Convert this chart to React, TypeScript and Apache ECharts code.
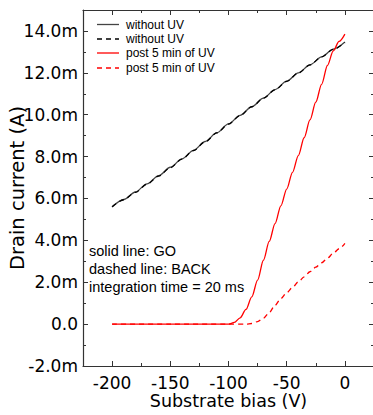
import React, { useEffect, useRef } from "react";
import * as echarts from "echarts";

// ---- data (drain current in mA, bias in V) ----
const seriesNames = ["without UV", "without UV", "post 5 min of UV", "post 5 min of UV"];

const biasBlack = [-200, -190, -180, -170, -160, -150, -140, -130, -120, -110, -100, -90, -80, -70, -60, -50, -40, -30, -20, -10, 0];
const noUvGo = [5.59, 5.95, 6.31, 6.70, 7.09, 7.49, 7.89, 8.30, 8.72, 9.14, 9.56, 9.97, 10.38, 10.79, 11.20, 11.60, 12.00, 12.38, 12.76, 13.13, 13.47];
const noUvBack = [5.60, 5.94, 6.29, 6.68, 7.07, 7.47, 7.88, 8.29, 8.71, 9.13, 9.55, 9.96, 10.38, 10.79, 11.19, 11.59, 11.99, 12.38, 12.76, 13.12, 13.45];

const biasUvGo = [-200, -150, -100, -95, -90, -85, -80, -75, -70, -65, -60, -55, -50, -45, -40, -35, -30, -25, -20, -15, -10, -5, 0];
const uvGo = [0, 0, 0, 0.08, 0.3, 0.7, 1.3, 2.1, 3.05, 3.95, 4.8, 5.65, 6.45, 7.25, 8.05, 8.9, 9.75, 10.6, 11.45, 12.35, 13.05, 13.5, 13.85];

const biasUvBack = [-200, -150, -100, -85, -80, -75, -70, -65, -60, -55, -50, -45, -40, -35, -30, -25, -20, -15, -10, -5, 0];
const uvBack = [0, 0, 0, 0, 0.03, 0.12, 0.28, 0.55, 0.9, 1.22, 1.5, 1.75, 2.02, 2.26, 2.5, 2.72, 2.93, 3.15, 3.38, 3.6, 3.86];

const xMajorTicks = [-200, -150, -100, -50, 0];
const xMinorTicks = [-225, -175, -125, -75, -25, 25];
const yMajorTicks = [-2, 0, 2, 4, 6, 8, 10, 12, 14];
const yMinorTicks = [-1, 1, 3, 5, 7, 9, 11, 13, 15];

const annotations = ["solid line: GO", "dashed line: BACK", "integration time = 20 ms"];

const pairs = (xs: number[], ys: number[]) => xs.map((x, i) => [x, ys[i]]);

export default function App() {
  const ref = useRef<HTMLDivElement>(null);
  useEffect(() => {
    if (!ref.current) return;
    const chart = echarts.init(ref.current, null, { renderer: "svg" });
    const axisColor = "#333";
    const tickFont = { fontFamily: "DejaVu Sans", fontSize: 17, color: "#000" };
    const xRange = { type: "value" as const, min: -225, max: 25, interval: 25 };
    const yRange = { type: "value" as const, min: -2, max: 15, interval: 1 };
    const common = { splitLine: { show: false }, gridIndex: 0 };
    const lineColors = ["#444", "#000", "#ff0000", "#ff0000"];
    const dashed = [false, true, false, true];
    const legendY = [24.5, 39, 53, 68];
    const annY = [250.5, 268.5, 286.5];

    const graphic: any[] = [];
    seriesNames.forEach((n, i) => {
      graphic.push({
        type: "line",
        shape: { x1: 97, y1: legendY[i], x2: 119, y2: legendY[i] },
        style: { stroke: lineColors[i], lineWidth: 1.3, lineDash: dashed[i] ? [5, 4] : null },
      });
      graphic.push({
        type: "text",
        x: 126,
        y: legendY[i],
        style: { text: n, fontFamily: "Liberation Sans", fontSize: 12, fill: "#000", verticalAlign: "middle" },
      });
    });
    annotations.forEach((t, i) => {
      graphic.push({
        type: "text",
        x: 89,
        y: annY[i],
        style: { text: t, fontFamily: "Liberation Sans", fontSize: 14.5, fill: "#000", verticalAlign: "middle" },
      });
    });

    const data = [
      pairs(biasBlack, noUvGo),
      pairs(biasBlack, noUvBack),
      pairs(biasUvGo, uvGo),
      pairs(biasUvBack, uvBack),
    ];

    chart.setOption({
      animation: false,
      backgroundColor: "#fff",
      grid: { left: 83, top: 10, width: 291, height: 356, containLabel: false, outerBoundsMode: "none" },
      xAxis: [
        {
          ...xRange, ...common, position: "bottom",
          axisLine: { show: true, onZero: false, lineStyle: { color: axisColor, width: 1.2 } },
          axisTick: { show: true, inside: true, length: 5, customValues: xMajorTicks, lineStyle: { color: axisColor } },
          axisLabel: { show: true, customValues: xMajorTicks, margin: 8, ...tickFont },
          name: "Substrate bias (V)", nameLocation: "middle", nameGap: 26, nameMoveOverlap: false,
          nameTextStyle: { fontFamily: "DejaVu Sans", fontSize: 17.5, color: "#000" },
        },
        {
          ...xRange, ...common, position: "bottom",
          axisLine: { show: false, onZero: false },
          axisTick: { show: true, inside: true, length: 3, customValues: xMinorTicks, lineStyle: { color: axisColor } },
          axisLabel: { show: false },
        },
        {
          ...xRange, ...common, position: "top",
          axisLine: { show: true, onZero: false, lineStyle: { color: axisColor, width: 1.2 } },
          axisTick: { show: true, inside: true, length: 5, customValues: xMajorTicks, lineStyle: { color: axisColor } },
          axisLabel: { show: false },
        },
        {
          ...xRange, ...common, position: "top",
          axisLine: { show: false, onZero: false },
          axisTick: { show: true, inside: true, length: 3, customValues: xMinorTicks, lineStyle: { color: axisColor } },
          axisLabel: { show: false },
        },
      ],
      yAxis: [
        {
          ...yRange, ...common, position: "left",
          axisLine: { show: true, onZero: false, lineStyle: { color: axisColor, width: 1.2 } },
          axisTick: { show: true, inside: true, length: 5, customValues: yMajorTicks, lineStyle: { color: axisColor } },
          axisLabel: {
            show: true, customValues: yMajorTicks, margin: 5, ...tickFont,
            formatter: (v: number) => (v === 0 ? "0.0" : v.toFixed(1) + "m"),
          },
          name: "Drain current (A)", nameLocation: "middle", nameGap: 56, nameMoveOverlap: false,
          nameTextStyle: { fontFamily: "DejaVu Sans", fontSize: 19.5, color: "#000" },
        },
        {
          ...yRange, ...common, position: "left",
          axisLine: { show: false, onZero: false },
          axisTick: { show: true, inside: true, length: 3, customValues: yMinorTicks, lineStyle: { color: axisColor } },
          axisLabel: { show: false },
        },
        {
          ...yRange, ...common, position: "right",
          axisLine: { show: true, onZero: false, lineStyle: { color: axisColor, width: 1.2 } },
          axisTick: { show: true, inside: true, length: 5, customValues: yMajorTicks, lineStyle: { color: axisColor } },
          axisLabel: { show: false },
        },
        {
          ...yRange, ...common, position: "right",
          axisLine: { show: false, onZero: false },
          axisTick: { show: true, inside: true, length: 3, customValues: yMinorTicks, lineStyle: { color: axisColor } },
          axisLabel: { show: false },
        },
      ],
      series: seriesNames.map((n, i) => ({
        type: "line",
        name: n,
        xAxisIndex: 0,
        yAxisIndex: 0,
        data: data[i],
        showSymbol: false,
        smooth: 0.3,
        smoothMonotone: "x",
        lineStyle: { color: lineColors[i], width: 1.3, type: dashed[i] ? [5, 4] : "solid" },
        itemStyle: { color: lineColors[i] },
        z: 2 + i,
      })),
      graphic,
    });
    return () => chart.dispose();
  }, []);
  return <div ref={ref} style={{ position: "fixed", left: 0, top: 0, width: 373, height: 415 }} />;
}
